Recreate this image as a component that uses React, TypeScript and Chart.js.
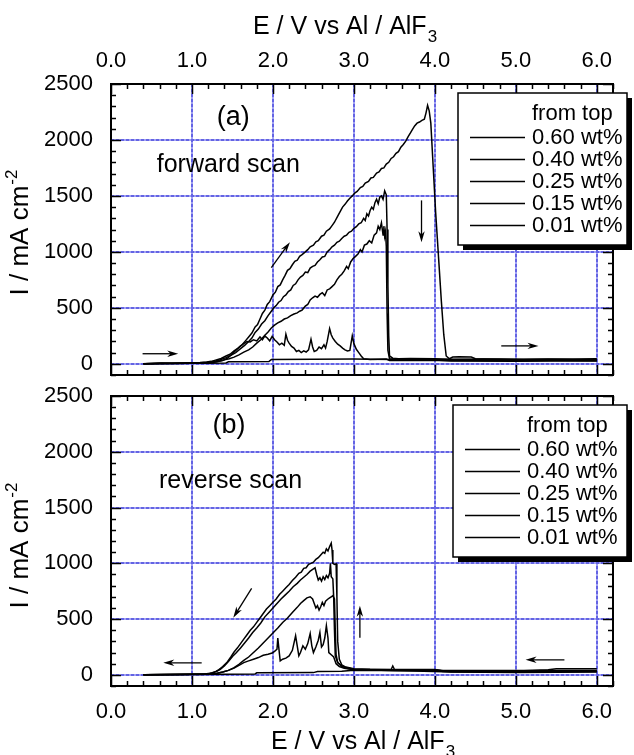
import React, { useEffect, useRef } from "react";
import { Chart, registerables } from "chart.js";

Chart.register(...registerables);

const FONT = '"Liberation Sans", Arial, Helvetica, sans-serif';

// ---------------- data ----------------
const seriesLabels = ["0.60 wt%", "0.40 wt%", "0.25 wt%", "0.15 wt%", "0.01 wt%"];
const legendTitle = "from top";
const xTitle = "E / V vs Al / AlF";
const xTitleSub = "3";
const yTitle = "I / mA cm";
const yTitleSup = "-2";
const xTicks = [0, 1, 2, 3, 4, 5, 6];
const yTicks = [0, 500, 1000, 1500, 2000, 2500];
const xMinorStep = 0.2;
const yMinorStep = 100;
const xLimits = [0, 6.2];
const yLimits = [-100, 2500];

// (a) forward scan : [E, I]
const forward060: number[][] = [
  [0.40, 0], [0.50, 3], [0.62, 8], [0.75, 5], [0.88, 7], [1.00, 10], [1.10, 12], [1.18, 16], [1.24, 22],
  [1.30, 35], [1.36, 48], [1.42, 70], [1.47, 85], [1.52, 115], [1.57, 140], [1.62, 170], [1.66, 205],
  [1.70, 240], [1.74, 275], [1.78, 330], [1.81, 350], [1.84, 400], [1.87, 450], [1.90, 480], [1.93, 530],
  [1.96, 555], [2.00, 615], [2.03, 640], [2.06, 690], [2.09, 705], [2.12, 750], [2.15, 790], [2.18, 835],
  [2.21, 850], [2.24, 885], [2.27, 915], [2.30, 925], [2.33, 960], [2.36, 975], [2.40, 1000], [2.43, 1020],
  [2.46, 1045], [2.50, 1060], [2.53, 1090], [2.56, 1100], [2.60, 1140], [2.63, 1150], [2.66, 1185],
  [2.70, 1205], [2.73, 1235], [2.76, 1265], [2.80, 1320], [2.83, 1360], [2.86, 1400], [2.89, 1425],
  [2.92, 1455], [2.95, 1480], [2.98, 1500], [3.01, 1525], [3.04, 1540], [3.08, 1575], [3.11, 1585],
  [3.14, 1615], [3.18, 1630], [3.21, 1660], [3.24, 1665], [3.28, 1705], [3.31, 1715], [3.34, 1745],
  [3.37, 1750], [3.40, 1785], [3.43, 1800], [3.46, 1835], [3.49, 1850], [3.52, 1880], [3.55, 1895],
  [3.58, 1935], [3.61, 1960], [3.64, 1990], [3.67, 2030], [3.70, 2065], [3.72, 2090], [3.75, 2125],
  [3.78, 2150], [3.81, 2160], [3.84, 2175], [3.87, 2185], [3.89, 2240], [3.91, 2310], [3.93, 2260],
  [3.95, 2150], [3.98, 1750], [4.01, 1350], [4.05, 900], [4.08, 560], [4.11, 260], [4.14, 70], [4.18, 45],
  [4.22, 60], [4.30, 62], [4.45, 60], [4.50, 45], [4.80, 42], [5.10, 40], [5.40, 44], [5.70, 42], [6.00, 45],
];
const forward040: number[][] = [
  [0.40, 0], [0.60, 4], [0.80, 6], [1.00, 8], [1.12, 10], [1.20, 14], [1.28, 22], [1.35, 36], [1.42, 55],
  [1.48, 75], [1.54, 100], [1.60, 135], [1.65, 165], [1.70, 200], [1.74, 230], [1.78, 280], [1.82, 310],
  [1.86, 355], [1.90, 385], [1.94, 430], [1.98, 470], [2.01, 500], [2.04, 520], [2.07, 550], [2.10, 565],
  [2.13, 600], [2.16, 615], [2.19, 645], [2.22, 660], [2.25, 700], [2.28, 715], [2.31, 750], [2.34, 775],
  [2.37, 790], [2.40, 820], [2.43, 815], [2.46, 855], [2.49, 870], [2.52, 880], [2.55, 910], [2.58, 930],
  [2.61, 955], [2.64, 960], [2.67, 1000], [2.70, 1020], [2.73, 1045], [2.76, 1060], [2.79, 1085],
  [2.82, 1095], [2.85, 1120], [2.88, 1140], [2.91, 1150], [2.94, 1175], [2.97, 1185], [3.00, 1210],
  [3.03, 1225], [3.06, 1250], [3.09, 1260], [3.12, 1300], [3.14, 1280], [3.16, 1340], [3.18, 1320],
  [3.20, 1370], [3.22, 1400], [3.24, 1380], [3.26, 1440], [3.28, 1470], [3.30, 1430], [3.32, 1490],
  [3.34, 1500], [3.36, 1470], [3.38, 1545], [3.40, 1510], [3.41, 1200], [3.42, 700], [3.43, 250],
  [3.44, 70], [3.48, 50], [3.55, 45], [3.70, 48], [4.00, 46], [4.20, 40], [4.60, 42], [5.00, 38],
  [5.40, 40], [5.80, 37], [6.00, 38],
];
const forward025: number[][] = [
  [0.40, 0], [0.70, 3], [1.00, 6], [1.15, 8], [1.25, 12], [1.32, 20], [1.40, 35], [1.46, 45], [1.52, 60],
  [1.58, 80], [1.64, 105], [1.70, 125], [1.75, 150], [1.80, 185], [1.85, 215], [1.90, 255], [1.94, 285],
  [1.98, 320], [2.02, 345], [2.06, 365], [2.10, 380], [2.14, 400], [2.18, 410], [2.22, 430], [2.26, 445],
  [2.30, 455], [2.33, 470], [2.36, 480], [2.40, 515], [2.43, 530], [2.46, 570], [2.49, 590], [2.52, 605],
  [2.55, 595], [2.58, 620], [2.61, 635], [2.64, 610], [2.67, 660], [2.70, 670], [2.73, 690], [2.76, 710],
  [2.79, 750], [2.82, 780], [2.85, 800], [2.88, 830], [2.91, 870], [2.93, 850], [2.96, 910], [2.99, 940],
  [3.02, 960], [3.05, 980], [3.08, 1020], [3.10, 1000], [3.13, 1060], [3.16, 1070], [3.19, 1100],
  [3.22, 1080], [3.25, 1150], [3.28, 1170], [3.30, 1230], [3.32, 1200], [3.34, 1260], [3.36, 1150],
  [3.37, 1230], [3.38, 1140], [3.39, 1180], [3.40, 1050], [3.41, 450], [3.42, 120], [3.44, 45],
  [3.50, 40], [3.70, 42], [4.00, 38], [4.50, 36], [5.00, 35], [5.50, 34], [6.00, 34],
];
const forward015: number[][] = [
  [0.40, 0], [0.80, 3], [1.00, 5], [1.15, 6], [1.22, 10], [1.30, 18], [1.38, 30], [1.44, 50], [1.50, 90],
  [1.55, 125], [1.60, 160], [1.64, 180], [1.68, 200], [1.72, 195], [1.76, 215], [1.80, 205], [1.84, 240],
  [1.87, 215], [1.90, 250], [1.93, 230], [1.96, 205], [1.99, 245], [2.02, 215], [2.05, 195], [2.08, 170],
  [2.11, 185], [2.14, 165], [2.16, 265], [2.18, 210], [2.20, 185], [2.23, 155], [2.26, 140], [2.29, 110],
  [2.32, 120], [2.35, 100], [2.38, 115], [2.41, 105], [2.44, 125], [2.47, 220], [2.49, 150], [2.51, 110],
  [2.54, 120], [2.57, 150], [2.60, 135], [2.63, 170], [2.65, 140], [2.67, 200], [2.70, 315], [2.72, 260],
  [2.74, 230], [2.77, 200], [2.80, 175], [2.83, 160], [2.86, 140], [2.89, 125], [2.92, 115], [2.95, 120],
  [2.98, 250], [3.00, 180], [3.03, 130], [3.06, 100], [3.09, 70], [3.12, 45], [3.20, 38], [3.30, 40],
  [3.40, 42], [3.44, 30], [3.60, 32], [4.00, 30], [4.50, 30], [5.00, 28], [5.50, 30], [6.00, 28],
];
const forward001: number[][] = [
  [0.40, 0], [0.90, 4], [1.20, 6], [1.42, 8], [1.45, 18], [1.95, 20], [1.98, 38], [2.50, 40], [3.00, 42],
  [3.20, 40], [3.50, 38], [4.00, 35], [4.20, 25], [5.00, 22], [5.40, 26], [6.00, 24],
];

// (b) reverse scan : [E, I]
const reverse060: number[][] = [
  [0.40, 0], [0.70, 3], [1.00, 6], [1.15, 8], [1.22, 12], [1.28, 25], [1.33, 45], [1.38, 75], [1.43, 110],
  [1.48, 160], [1.52, 205], [1.56, 240], [1.60, 280], [1.64, 320], [1.68, 360], [1.72, 400], [1.76, 430],
  [1.80, 470], [1.84, 510], [1.88, 550], [1.92, 590], [1.96, 620], [2.00, 650], [2.04, 680], [2.08, 720],
  [2.12, 750], [2.16, 780], [2.20, 810], [2.24, 845], [2.28, 875], [2.32, 910], [2.35, 920], [2.38, 955],
  [2.41, 960], [2.44, 990], [2.47, 1000], [2.50, 1010], [2.53, 1035], [2.56, 1050], [2.59, 1075],
  [2.62, 1100], [2.64, 1090], [2.66, 1130], [2.68, 1110], [2.70, 1150], [2.72, 1180], [2.73, 1120],
  [2.74, 1000], [2.76, 990], [2.78, 995], [2.79, 700], [2.80, 300], [2.82, 140], [2.85, 90], [2.90, 70],
  [3.00, 55], [3.20, 50], [3.46, 48], [3.48, 80], [3.50, 50], [4.00, 48], [4.10, 40], [4.60, 38],
  [5.10, 40], [5.40, 45], [5.50, 55], [6.00, 55],
];
const reverse040: number[][] = [
  [0.40, 0], [0.80, 4], [1.00, 6], [1.18, 9], [1.25, 16], [1.30, 30], [1.35, 50], [1.40, 80], [1.45, 120],
  [1.50, 165], [1.55, 200], [1.60, 240], [1.65, 285], [1.70, 330], [1.75, 380], [1.80, 420], [1.85, 465],
  [1.90, 520], [1.95, 560], [2.00, 600], [2.05, 640], [2.10, 680], [2.15, 715], [2.20, 750], [2.25, 790],
  [2.30, 820], [2.34, 850], [2.38, 875], [2.42, 900], [2.46, 930], [2.50, 950], [2.52, 960], [2.54, 900],
  [2.56, 850], [2.58, 870], [2.60, 840], [2.62, 880], [2.64, 855], [2.66, 890], [2.68, 870], [2.70, 910],
  [2.71, 1000], [2.72, 880], [2.74, 860], [2.75, 700], [2.76, 400], [2.77, 170], [2.80, 110], [2.85, 80],
  [2.90, 65], [3.00, 50], [3.50, 45], [4.00, 45], [4.10, 35], [5.00, 33], [5.40, 38], [6.00, 40],
];
const reverse025: number[][] = [
  [0.40, 0], [1.00, 5], [1.20, 7], [1.30, 12], [1.38, 25], [1.45, 40], [1.52, 65], [1.58, 95], [1.64, 130],
  [1.70, 160], [1.76, 200], [1.82, 240], [1.88, 285], [1.94, 330], [2.00, 375], [2.06, 420], [2.12, 470],
  [2.18, 510], [2.24, 560], [2.30, 605], [2.34, 640], [2.38, 665], [2.42, 690], [2.46, 700], [2.49, 680],
  [2.51, 640], [2.53, 600], [2.55, 620], [2.57, 580], [2.59, 610], [2.61, 650], [2.63, 620], [2.65, 660],
  [2.68, 680], [2.70, 690], [2.72, 700], [2.74, 710], [2.76, 680], [2.77, 400], [2.78, 180], [2.80, 110],
  [2.85, 75], [2.90, 60], [3.00, 45], [3.50, 40], [4.00, 42], [4.10, 30], [5.00, 30], [5.50, 32], [6.00, 35],
];
const reverse015: number[][] = [
  [0.40, 0], [1.00, 4], [1.20, 6], [1.30, 12], [1.38, 25], [1.45, 40], [1.52, 60], [1.58, 85], [1.64, 110],
  [1.70, 125], [1.76, 140], [1.82, 155], [1.88, 175], [1.94, 185], [1.99, 195], [2.02, 210], [2.05, 230],
  [2.06, 330], [2.08, 190], [2.09, 125], [2.12, 140], [2.16, 150], [2.20, 170], [2.24, 220], [2.28, 350],
  [2.30, 260], [2.32, 170], [2.34, 200], [2.37, 260], [2.40, 230], [2.43, 280], [2.46, 370], [2.48, 260],
  [2.50, 200], [2.53, 250], [2.56, 310], [2.58, 380], [2.60, 250], [2.62, 270], [2.64, 330], [2.66, 440],
  [2.68, 330], [2.69, 200], [2.72, 180], [2.75, 160], [2.78, 100], [2.82, 75], [2.88, 60], [3.00, 45],
  [3.50, 40], [4.10, 28], [5.00, 26], [6.00, 30],
];
const reverse001: number[][] = [
  [0.40, 0], [1.00, 4], [1.78, 8], [1.80, 18], [2.50, 20], [2.55, 30], [2.85, 32], [3.00, 42], [3.50, 40],
  [4.00, 38], [4.20, 25], [5.00, 22], [5.50, 24], [6.00, 26],
];

// annotation arrows [fromE, fromI, toE, toI] (head at "to")
const forwardArrows = [[0.39, 90, 0.83, 90], [1.98, 860, 2.21, 1087], [3.835, 1460, 3.835, 1087], [4.82, 160, 5.28, 160]];
const reverseArrows = [[1.12, 108, 0.646, 108], [1.737, 775, 1.51, 513], [3.074, 333, 3.074, 619], [5.6, 135, 5.12, 135]];
const forwardNotes = [
  { text: "(a)", x: 1.51, y: 2135, size: 27 },
  { text: "forward scan", x: 1.449, y: 1716, size: 25 },
];
const reverseNotes = [
  { text: "(b)", x: 1.457, y: 2165, size: 27 },
  { text: "reverse scan", x: 1.477, y: 1676, size: 25 },
];

// ---------------- drawing helpers ----------------
type Note = { text: string; x: number; y: number; size: number };
type PanelSpec = {
  arrows: number[][];
  notes: Note[];
  legendDx: number;
  legendW: number;
  titleY: number;
  titleX: number;
  yTitleCenter: number;
};

const CANVAS_A_H = 378;
const CANVAS_B_H = 755 - CANVAS_A_H;

function drawArrow(ctx: CanvasRenderingContext2D, x1: number, y1: number, x2: number, y2: number) {
  const ang = Math.atan2(y2 - y1, x2 - x1);
  const hl = 11, hw = 3.2;
  ctx.beginPath();
  ctx.moveTo(x1, y1);
  ctx.lineTo(x2 - Math.cos(ang) * hl * 0.6, y2 - Math.sin(ang) * hl * 0.6);
  ctx.stroke();
  ctx.beginPath();
  ctx.moveTo(x2, y2);
  ctx.lineTo(x2 - Math.cos(ang) * hl - Math.sin(ang) * hw, y2 - Math.sin(ang) * hl + Math.cos(ang) * hw);
  ctx.lineTo(x2 - Math.cos(ang) * hl * 0.7, y2 - Math.sin(ang) * hl * 0.7);
  ctx.lineTo(x2 - Math.cos(ang) * hl + Math.sin(ang) * hw, y2 - Math.sin(ang) * hl - Math.cos(ang) * hw);
  ctx.closePath();
  ctx.fill();
}

function gridPass(ctx: CanvasRenderingContext2D, a: any, x: any, y: any) {
  for (const v of xTicks) {
    if (v <= x.min || v >= x.max) continue;
    const px = Math.round(x.getPixelForValue(v));
    ctx.beginPath();
    ctx.moveTo(px, a.top);
    ctx.lineTo(px, a.bottom);
    ctx.stroke();
  }
  for (const v of yTicks) {
    if (v <= y.min || v >= y.max) continue;
    const py = Math.round(y.getPixelForValue(v));
    ctx.beginPath();
    ctx.moveTo(a.left, py);
    ctx.lineTo(a.right, py);
    ctx.stroke();
  }
}

function decorPlugin(p: PanelSpec) {
  return {
    id: "decor",
    beforeDatasetsDraw(chart: any) {
      const { ctx, chartArea: a, scales } = chart;
      const x = scales.x, y = scales.y;
      ctx.save();
      ctx.lineWidth = 2;
      ctx.strokeStyle = "rgb(160,160,242)";
      ctx.setLineDash([]);
      gridPass(ctx, a, x, y);
      ctx.strokeStyle = "rgb(100,100,228)";
      ctx.setLineDash([3, 2]);
      gridPass(ctx, a, x, y);
      ctx.restore();
    },
    afterDatasetsDraw(chart: any) {
      const { ctx, chartArea: a, scales } = chart;
      const x = scales.x, y = scales.y;
      ctx.save();
      ctx.setLineDash([]);
      ctx.strokeStyle = "#000";
      ctx.fillStyle = "#000";
      // inward ticks
      ctx.lineWidth = 1.5;
      const nx = Math.round((x.max - x.min) / xMinorStep);
      for (let i = 0; i <= nx; i++) {
        const v = x.min + i * xMinorStep;
        if (v > x.max + 1e-9) break;
        const major = xTicks.some((t) => Math.abs(t - v) < 1e-6);
        const len = major ? 10 : 5;
        const px = Math.round(x.getPixelForValue(v)) + 0.5;
        ctx.beginPath();
        ctx.moveTo(px, a.bottom);
        ctx.lineTo(px, a.bottom - len);
        ctx.moveTo(px, a.top);
        ctx.lineTo(px, a.top + len);
        ctx.stroke();
      }
      const startY = Math.ceil(y.min / yMinorStep);
      const endY = Math.floor(y.max / yMinorStep);
      for (let i = startY; i <= endY; i++) {
        const v = i * yMinorStep;
        const major = yTicks.includes(v);
        const len = major ? 10 : 5;
        const py = Math.round(y.getPixelForValue(v)) + 0.5;
        ctx.beginPath();
        ctx.moveTo(a.left, py);
        ctx.lineTo(a.left + len, py);
        ctx.moveTo(a.right, py);
        ctx.lineTo(a.right - len, py);
        ctx.stroke();
      }
      // frame
      ctx.lineWidth = 2;
      ctx.strokeRect(a.left, a.top, a.right - a.left, a.bottom - a.top);

      // arrows
      ctx.lineWidth = 1.3;
      for (const ar of p.arrows) {
        drawArrow(ctx, x.getPixelForValue(ar[0]), y.getPixelForValue(ar[1]), x.getPixelForValue(ar[2]), y.getPixelForValue(ar[3]));
      }
      // notes
      ctx.textAlign = "center";
      ctx.textBaseline = "alphabetic";
      for (const n of p.notes) {
        ctx.font = `${n.size}px ${FONT}`;
        ctx.fillText(n.text, x.getPixelForValue(n.x), y.getPixelForValue(n.y));
      }

      // legend
      const L = a.left + p.legendDx, T = a.top + 9, W = p.legendW, H = 152;
      ctx.fillStyle = "#000";
      ctx.fillRect(L + 5, T + 5, W, H);
      ctx.fillStyle = "#fff";
      ctx.fillRect(L, T, W, H);
      ctx.lineWidth = 1.5;
      ctx.strokeRect(L, T, W, H);
      ctx.fillStyle = "#000";
      ctx.font = `22px ${FONT}`;
      ctx.textAlign = "left";
      ctx.textBaseline = "middle";
      ctx.fillText(legendTitle, L + 74, T + 21);
      chart.data.datasets.forEach((ds: any, i: number) => {
        const yy = T + 44 + i * 22;
        ctx.lineWidth = 1.5;
        ctx.beginPath();
        ctx.moveTo(L + 12, yy + 0.5);
        ctx.lineTo(L + 67, yy + 0.5);
        ctx.stroke();
        ctx.fillText(ds.label, L + 74, yy + 1);
      });

      // x axis title with subscript
      ctx.textBaseline = "alphabetic";
      ctx.textAlign = "left";
      ctx.font = `25px ${FONT}`;
      const w = ctx.measureText(xTitle).width;
      ctx.fillText(xTitle, p.titleX, p.titleY);
      ctx.font = `17px ${FONT}`;
      ctx.fillText(xTitleSub, p.titleX + w + 1, p.titleY + 8);

      // y axis title with superscript
      ctx.save();
      ctx.translate(19, p.yTitleCenter);
      ctx.rotate(-Math.PI / 2);
      ctx.font = `26px ${FONT}`;
      const wy = ctx.measureText(yTitle).width;
      ctx.font = `17px ${FONT}`;
      const ws = ctx.measureText(yTitleSup).width;
      const start = -(wy + ws) / 2;
      ctx.font = `26px ${FONT}`;
      ctx.fillText(yTitle, start, 9);
      ctx.font = `17px ${FONT}`;
      ctx.fillText(yTitleSup, start + wy + 1, -2);
      ctx.restore();

      ctx.restore();
    },
  };
}

function makeDatasets(series: number[][][]) {
  return series.map((s, i) => ({
    label: seriesLabels[i],
    data: s.map((pt) => ({ x: pt[0], y: pt[1] })),
    borderColor: "#000",
    backgroundColor: "#000",
    borderWidth: 1.5,
    pointRadius: 0,
    tension: 0,
    fill: false,
  }));
}

function makeConfig(panel: "a" | "b") {
  const isA = panel === "a";
  const spec: PanelSpec = isA
    ? { arrows: forwardArrows, notes: forwardNotes, legendDx: 347, legendW: 169, titleX: 253, titleY: 34, yTitleCenter: 233 }
    : { arrows: reverseArrows, notes: reverseNotes, legendDx: 342, legendW: 174, titleX: 271, titleY: 749 - CANVAS_A_H, yTitleCenter: 546 - CANVAS_A_H };
  const series = isA
    ? [forward060, forward040, forward025, forward015, forward001]
    : [reverse060, reverse040, reverse025, reverse015, reverse001];
  const tickFont = { size: 22, family: FONT };
  return {
    type: "line" as const,
    data: { datasets: makeDatasets(series) },
    options: {
      responsive: false,
      animation: false as const,
      devicePixelRatio: 1,
      events: [],
      layout: {
        padding: isA
          ? { left: 0, right: 21, top: 0, bottom: CANVAS_A_H - 375 }
          : { left: 0, right: 21, top: 396 - CANVAS_A_H, bottom: 0 },
      },
      plugins: { legend: { display: false }, tooltip: { enabled: false }, title: { display: false } },
      scales: {
        x: {
          type: "linear" as const,
          position: isA ? ("top" as const) : ("bottom" as const),
          min: xLimits[0],
          max: xLimits[1],
          afterBuildTicks: (s: any) => {
            s.ticks = xTicks.map((v) => ({ value: v }));
          },
          afterFit: (s: any) => {
            s.height = isA ? 84 : 69;
            s.paddingLeft = 0;
            s.paddingRight = 0;
          },
          ticks: {
            callback: (v: any) => Number(v).toFixed(1),
            font: tickFont,
            color: "#000",
            padding: isA ? 10 : 13,
            maxRotation: 0,
            autoSkip: false,
          },
          grid: { display: false, drawTicks: false },
          border: { display: false },
        },
        y: {
          type: "linear" as const,
          min: yLimits[0],
          max: yLimits[1],
          afterBuildTicks: (s: any) => {
            s.ticks = yTicks.map((v) => ({ value: v }));
          },
          afterFit: (s: any) => {
            s.width = 111;
            s.paddingTop = 0;
            s.paddingBottom = 0;
          },
          ticks: {
            callback: (v: any) => String(v),
            font: tickFont,
            color: "#000",
            padding: 18,
            autoSkip: false,
          },
          grid: { display: false, drawTicks: false },
          border: { display: false },
        },
      },
    },
    plugins: [decorPlugin(spec)],
  };
}

export default function App() {
  const refA = useRef<HTMLCanvasElement>(null);
  const refB = useRef<HTMLCanvasElement>(null);
  useEffect(() => {
    const a = new Chart(refA.current as HTMLCanvasElement, makeConfig("a") as any);
    const b = new Chart(refB.current as HTMLCanvasElement, makeConfig("b") as any);
    return () => {
      a.destroy();
      b.destroy();
    };
  }, []);
  return (
    <div style={{ position: "absolute", left: 0, top: 0, width: 634, height: 755, background: "#fff" }}>
      <canvas ref={refA} width={634} height={CANVAS_A_H} style={{ position: "absolute", left: 0, top: 0 }} />
      <canvas ref={refB} width={634} height={CANVAS_B_H} style={{ position: "absolute", left: 0, top: CANVAS_A_H }} />
    </div>
  );
}
